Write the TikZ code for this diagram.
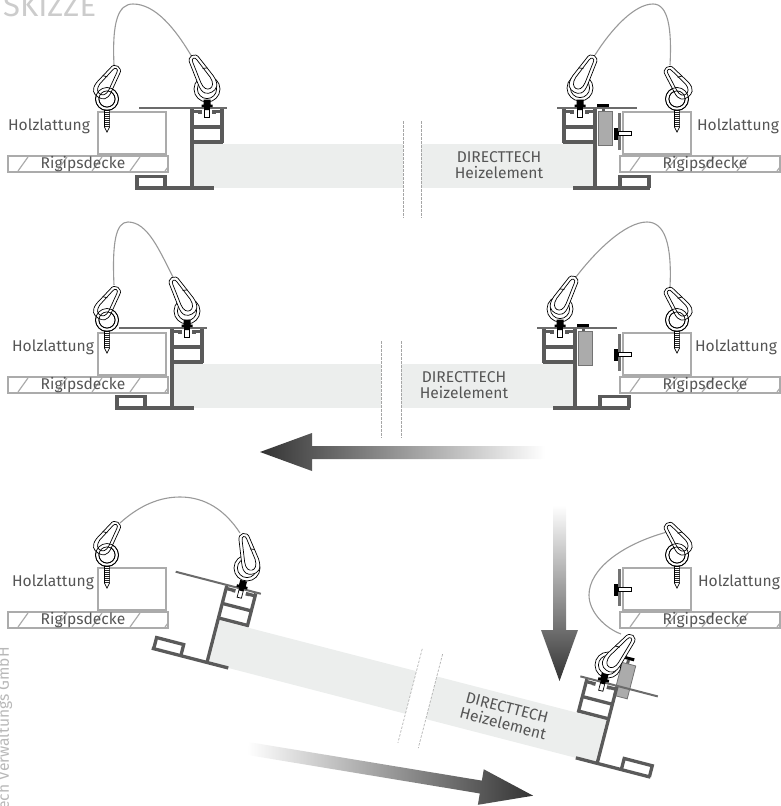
\documentclass[tikz,border=0pt]{standalone}
\usepackage{fontspec}
\setmainfont{Fira Sans}
\definecolor{prof}{HTML}{5A5A5A}
\definecolor{woodc}{HTML}{ABABAB}
\definecolor{labelc}{HTML}{555555}
\definecolor{panelc}{HTML}{ECEEED}
\definecolor{blockc}{HTML}{ABABAB}
\definecolor{arrowc}{HTML}{333333}
\tikzset{
  profline/.style={draw=prof,line width=3.3pt},
  plateline/.style={draw=prof!90,line width=2pt},
  woodline/.style={draw=woodc,line width=1.3pt},
  rigline/.style={draw=woodc,line width=1.2pt},
  cable/.style={draw=black!40,line width=1.1pt},
  hw/.style={draw=black,line width=.7pt,fill=white},
  lab/.style={text=labelc,font=\fontsize{15.6}{16.5}\selectfont,inner sep=0pt},
  breakline/.style={draw=black!35,line width=.6pt,dash pattern=on 2.5pt off 1.5pt},
}
% carabiner: origin at lower end, axis upward
\newcommand{\carab}[5]{%
  \begin{scope}[shift={(#1,#2)},rotate=#3,xscale=#4,yscale=#5]
    \draw[hw] (-5.5,-31) .. controls (-5.5,-38.5) and (5.5,-38.5) .. (5.5,-31) -- (9,-12) .. controls (10,-2) and (5,0) .. (0,0) .. controls (-5,0) and (-10,-2) .. (-8.3,-12) -- cycle;
    \draw[hw] (-2.4,-31) .. controls (-2.4,-34.8) and (2.4,-34.8) .. (2.4,-31) -- (5.6,-12) .. controls (6,-6) and (3,-3.5) .. (0,-3.5) .. controls (-3,-3.5) and (-6,-6) .. (-5.2,-12) -- cycle;
    \draw[black,line width=.7pt] (3.2,-22) -- (7.6,-20.5);
  \end{scope}}
\newcommand{\ringback}[3]{%
  \draw[hw] (#1,#2) circle[radius=#3];
  \draw[hw] (#1,#2) circle[radius=#3-3.4];}
\newcommand{\ringfront}[3]{%
  \draw[black,line width=.7pt] (#1,#2) circle[radius=#3];
  \draw[black,line width=.7pt] (#1,#2) circle[radius=#3-3.4];}
% wooden eye screw
\newcommand{\woodscrew}[2]{%
  \draw[hw] (#1-2.6,#2+11) -- (#1+2.6,#2+11) -- (#1+2.6,#2+28) -- (#1,#2+33) -- (#1-2.6,#2+28) -- cycle;
  \draw[black!85,line width=5pt,dash pattern=on 1.2pt off .8pt] (#1,#2+11) -- (#1,#2+28);}
% bolt through the plate
\newcommand{\nutbolt}[3]{%
  \begin{scope}[shift={(#1,#2)},rotate=#3]
    \draw[draw=black,fill=white,line width=.7pt] (-2.2,-1) rectangle (2.2,9);
    \fill[black] (-3.5,-8.5) -- (3.5,-8.5) -- (3.5,-3.5) -- (5.5,-3.5) -- (5.5,-.8) -- (2.2,-.8) -- (2.2,2) -- (-2.2,2) -- (-2.2,-.8) -- (-5.5,-.8) -- (-5.5,-3.5) -- (-3.5,-3.5) -- cycle;
  \end{scope}}
% profiles, heating element, grey block
\newcommand{\assembly}[9]{%
  \begin{scope}[shift={(#1,#2)},rotate=#3]
    \fill[panelc] (2,36) rectangle (#4,80);
    \fill[panelc] (#5,36) rectangle (401,80);
    \draw[breakline] (#4,13) -- (#4,110);
    \draw[breakline] (#5,13) -- (#5,110);
    \node[lab,align=center,transform shape] (#7text) at (#6,57) {DIRECTTECH\\Heizelement};
    \begin{scope}[shift={(#8,#9)}]
      \fill[black] (405,-4) rectangle (417,-1);
      \fill[prof] (410,-1) rectangle (413,3);
      \draw[draw=black!55,fill=blockc,line width=.8pt] (406,3) rectangle (420,37);
    \end{scope}
    \draw[plateline] (-53,0) -- (35,0);
    \draw[profline] (0,1) -- (0,80);
    \draw[profline] (30,1) -- (30,35.4);
    \draw[profline] (-1,19) -- (31,19);
    \draw[profline] (-1,34) -- (31,34);
    \draw[profline] (-1,3.5) -- (8,3.5) -- (8,5.5);
    \draw[profline] (31,3.5) -- (22,3.5) -- (22,5.5);
    \draw[profline] (-57,80) -- (22,80);
    \draw[profline] (-55,80) -- (-55,68.5) -- (-27,68.5) -- (-27,80);
    % right side
    \draw[plateline] (365,0) -- (445,0);
    \draw[profline] (403,1) -- (403,80);
    \draw[profline] (372,1) -- (372,35.4);
    \draw[profline] (371,19) -- (404,19);
    \draw[profline] (371,34) -- (404,34);
    \draw[profline] (371,3.5) -- (380,3.5) -- (380,5.5);
    \draw[profline] (404,3.5) -- (395,3.5) -- (395,5.5);
    \draw[profline] (381,80) -- (458,80);
    \draw[profline] (428,80) -- (428,68.5) -- (457,68.5) -- (457,80);
  \end{scope}}
\newcommand{\woodleft}[3]{%
  \draw[woodline] (98,112+#1) rectangle (166,154+#1);
  \draw[rigline] (8,156+#1) rectangle (168,172+#1);
  \draw[rigline] (18,171+#1) -- (28,157+#1) (57,171+#1) -- (67,157+#1) (92,171+#1) -- (102,157+#1) (130,171+#1) -- (140,157+#1) (165,171+#1) -- (168,167+#1);
  \node[lab] (#3holz) at (#2,126+#1) {Holzlattung};
  \node[lab] (#3rig) at (83,164.5+#1) {Rigipsdecke};
  \ringback{107}{99+#1}{11.5}
  \woodscrew{107}{99+#1}
  \carab{98}{97+#1}{-33}{-1}{1}
  \ringfront{107}{99+#1}{11.5}}
\newcommand{\woodright}[3]{%
  \draw[woodline] (623,112+#1) rectangle (691,154+#1);
  \draw[rigline] (620,156+#1) rectangle (780,172+#1);
  \draw[rigline] (630,171+#1) -- (640,157+#1) (666,171+#1) -- (677,157+#1) (702,171+#1) -- (714,157+#1) (737,171+#1) -- (748,157+#1) (777,171+#1) -- (780,167+#1);
  \node[lab] (#3holz) at (#2,126+#1) {Holzlattung};
  \node[lab] (#3rig) at (705,164.5+#1) {Rigipsdecke};
  \draw[draw=prof!85,line width=3pt] (619,113+#1) -- (619,150+#1);
  \fill[black] (614,128+#1) rectangle (618,140+#1);
  \draw[draw=black,fill=white,line width=.7pt] (618,131+#1) rectangle (631,135+#1);
  \ringback{677}{99+#1}{11.5}
  \woodscrew{677}{99+#1}
  \carab{688}{97+#1}{36}{1}{1}
  \ringfront{677}{99+#1}{11.5}}
\begin{document}
\begin{tikzpicture}[x=1pt,y=-1pt]
\useasboundingbox (0,0) rectangle (781,806);
\clip (0,0) rectangle (781,806);
\node[text=black!20,font=\fontsize{31}{32}\selectfont,anchor=base west,inner sep=0pt] (title) at (3,16) {SKIZZE};
\node[text=black!28,font=\fontsize{15.6}{16}\selectfont,rotate=90,anchor=base east,inner sep=0pt] (firm) at (9,647) {ech Verwaltungs GmbH};

% ---------- row 1
\assembly{192}{108}{0}{211}{229}{307}{ra}{0}{0}
\draw[cable] (114,65) .. controls (112,22) and (118,4) .. (133,4) .. controls (155,4) and (175,28) .. (192,57);
\draw[cable] (595,55) .. controls (612,28) and (635,4) .. (653,4) .. controls (668,4) and (672,28) .. (670,65);
\woodleft{0}{49}{rbl}
\woodright{0}{738}{rbr}
\ringback{207}{89}{13}
\carab{212}{92}{29}{1}{1.14}
\nutbolt{207}{108}{0}
\ringback{580}{88}{13}
\carab{574}{92}{-29}{-1}{1.14}
\nutbolt{580}{108}{0}

% ---------- row 2
\assembly{172}{328}{0}{209}{229}{292}{rc}{0}{0}
\draw[cable] (114,285) .. controls (112,242) and (116,222) .. (128,222) .. controls (148,222) and (160,252) .. (173,277);
\draw[cable] (576,277) .. controls (595,252) and (625,222) .. (647,222) .. controls (665,222) and (672,245) .. (670,287);
\woodleft{221}{53}{rdl}
\woodright{221}{736}{rdr}
\ringback{187}{311}{13}
\carab{192}{314}{29}{1}{1.14}
\nutbolt{187}{328}{0}
\ringback{560}{309}{13}
\carab{555}{313}{-29}{-1}{1.14}
\nutbolt{560}{328}{0}

% ---------- row 3
\assembly{227}{585}{-14.5}{205}{226}{302}{re}{-4}{-27}
\draw[cable] (120,523) .. controls (140,505) and (160,497) .. (180,497) .. controls (205,497) and (225,510) .. (240,533);
\draw[cable] (667,532) .. controls (620,545) and (589,570) .. (589,595) .. controls (589,612) and (605,628) .. (621,634);
\woodleft{456}{53}{rfl}
\woodright{456}{739}{rfr}
\ringback{247}{568}{13}
\carab{253}{574}{14}{1}{1.14}
\nutbolt{241.5}{589}{-14.5}
\ringback{608}{665}{13}
\carab{606}{670}{-38}{-1}{1.2}
\nutbolt{603}{682}{-14.5}

% ---------- arrows
\shade[left color=arrowc,right color=white] (260,452) -- (312,433) -- (312,446) -- (545,446) -- (545,459) -- (312,459) -- (312,471) -- cycle;
\shade[top color=white,bottom color=arrowc] (553,505) -- (566,505) -- (566,630) -- (578,630) -- (559.5,681) -- (541,630) -- (553,630) -- cycle;
\begin{scope}[shift={(248,748.5)},rotate=-9.4]
\shade[left color=white,right color=arrowc] (0,-6.5) -- (236,-6.5) -- (236,-18) -- (289,0) -- (236,18) -- (236,6.5) -- (0,6.5) -- cycle;
\end{scope}
\end{tikzpicture}
\end{document}
